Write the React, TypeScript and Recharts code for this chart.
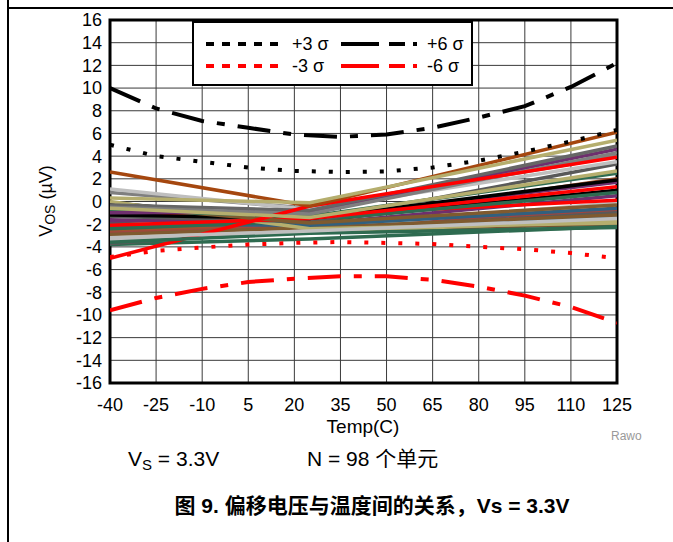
import React from 'react'
import { LineChart, Line, XAxis, YAxis, CartesianGrid, ReferenceArea } from 'recharts'

// temperature grid (C)
const tempTicks = [-40, -25, -10, 5, 20, 35, 50, 65, 80, 95, 110, 125]
const vosTicks = [-16, -14, -12, -10, -8, -6, -4, -2, 0, 2, 4, 6, 8, 10, 12, 14, 16]

// sigma envelopes, one value per tempTicks entry (uV)
const plus6 = [10.0, 8.2, 7.1, 6.5, 5.9, 5.7, 5.9, 6.5, 7.4, 8.4, 10.1, 12.2]
const plus3 = [5.0, 4.0, 3.5, 3.0, 2.7, 2.6, 2.65, 3.0, 3.6, 4.4, 5.3, 6.3]
const minus3 = [-4.9, -4.35, -4.05, -3.8, -3.65, -3.57, -3.65, -3.75, -4.0, -4.2, -4.55, -5.0]
const minus6 = [-9.6, -8.5, -7.7, -7.1, -6.8, -6.6, -6.6, -6.9, -7.5, -8.3, -9.3, -10.7]

// individual units measured at three temperatures
const unitTemps = [-40, 25, 125]
const unitColors = [
  '#7A5230', '#31607F', '#2E6B50', '#B5AE6E', '#A0453F', '#595959', '#BFBFBF',
  '#6E2F6E', '#A0522D', '#7F7F7F', '#000000', '#FF0000', '#7F5A2F', '#31607F',
  '#2E6B50', '#B5AE6E', '#6E2F6E', '#595959', '#000000', '#FF0000', '#7F5A2F',
  '#2E6B50', '#BFBFBF', '#6E2F6E', '#666666', '#7F7F7F', '#FF0000', '#B5AE6E',
  '#A5470F', '#2E6B50', '#B5AE6E', '#BFBFBF',
]
const unitAtMinus40 = [
  -1.9, -2.3, -3.8, -3.1, -2.7, -3.7, -3.4,
  -1.6, -2.5, 0.8, -0.1, -1.0, -2.9, -2.0,
  -2.4, 0.0, -1.7, -1.3, -1.2, -2.1, -0.4,
  -0.8, 1.1, -1.0, -0.3, -0.5, -5.0, -0.6,
  2.6, -3.6, 0.3, -3.2,
]
const unitAt25 = [
  -2.6, -2.5, -3.3, -2.7, -2.2, -2.5, -2.4,
  -2.0, -1.9, -0.6, -1.7, -1.2, -2.3, -2.1,
  -1.7, -2.4, -1.5, -1.8, -1.5, -1.5, -1.9,
  -1.3, -0.7, -0.9, -0.8, -1.1, -0.4, -1.4,
  -0.4, -2.8, -0.1, -2.6,
]
const unitAt125 = [
  -2.0, -1.4, -2.2, -1.7, -0.8, -1.0, -0.1,
  0.5, 2.0, 4.0, 1.0, 0.1, -1.2, -0.6,
  0.8, -1.9, 1.7, 3.3, 1.9, 1.3, -0.3,
  2.5, 3.5, 4.6, 4.9, 4.3, 3.9, 2.7,
  6.1, -2.3, 5.4, -1.5,
]

const sigmaSeries = [
  { name: '+3 σ', values: plus3, color: '#000000', dash: '4 13' },
  { name: '+6 σ', values: plus6, color: '#000000', dash: '33 13 8 13' },
  { name: '-3 σ', values: minus3, color: '#FF0000', dash: '4 13' },
  { name: '-6 σ', values: minus6, color: '#FF0000', dash: '33 13 8 13' },
]
const legendDash = ['8 8', '38 10 16 8', '8 8', '38 10 16 8']

const font = '"Liberation Sans", Arial, sans-serif'
const cjk = '"Liberation Sans", Arial, "Noto Sans CJK SC", sans-serif'

const unitData = unitColors.map((c, i) =>
  unitTemps.map((t, k) => ({
    t,
    v: [unitAtMinus40[i], unitAt25[i], unitAt125[i]][k],
  })),
)
const sigmaData = sigmaSeries.map(s => tempTicks.map((t, k) => ({ t, v: s.values[k] })))

function YLabel() {
  return (
    <text
      x={46}
      y={201}
      transform="rotate(-90 46 201)"
      textAnchor="middle"
      dominantBaseline="central"
      style={{ fontFamily: font, fontSize: 18, fill: '#000' }}
    >
      <tspan>V</tspan>
      <tspan fontSize={14} dy={4}>OS</tspan>
      <tspan dy={-4}> (µV)</tspan>
    </text>
  )
}

export default function App() {
  return (
    <div style={{ position: 'absolute', left: 0, top: 0, width: 673, height: 542, background: '#fff', fontFamily: font }}>
      {/* page frame */}
      <div style={{ position: 'absolute', left: 7, top: 0, width: 2, height: 542, background: '#000' }} />
      <div style={{ position: 'absolute', left: 7, top: 7, width: 666, height: 2, background: '#000' }} />

      <LineChart
        width={673}
        height={542}
        margin={{ top: 20, right: 56, bottom: 129, left: 0 }}
        style={{ position: 'absolute', left: 0, top: 0 }}
      >
        <CartesianGrid stroke="#3a3a3a" strokeWidth={1} />
        <XAxis
          type="number"
          dataKey="t"
          domain={[-40, 125]}
          ticks={tempTicks}
          allowDataOverflow
          height={30}
          tickLine={false}
          axisLine={false}
          tickSize={0}
          tickMargin={15}
          tick={{ fill: '#000', fontSize: 18, fontFamily: font }}
          interval={0}
        />
        <YAxis
          type="number"
          domain={[-16, 16]}
          ticks={vosTicks}
          width={110}
          tickLine={false}
          axisLine={false}
          tickSize={0}
          tickMargin={8}
          interval={0}
          tick={{ fill: '#000', fontSize: 18, fontFamily: font }}
          label={<YLabel />}
        />
        {unitData.map((d, i) => (
          <Line
            key={'u' + i}
            data={d}
            dataKey="v"
            stroke={unitColors[i]}
            strokeWidth={3.5}
            dot={false}
            isAnimationActive={false}
          />
        ))}
        {sigmaSeries.map((s, i) => (
          <Line
            key={s.name}
            data={sigmaData[i]}
            dataKey="v"
            name={s.name}
            stroke={s.color}
            strokeWidth={4}
            strokeDasharray={s.dash}
            dot={false}
            isAnimationActive={false}
          />
        ))}
        <ReferenceArea
          x1={-40}
          x2={125}
          y1={-16}
          y2={16}
          fill="none"
          fillOpacity={0}
          stroke="#000"
          strokeWidth={3}
          ifOverflow="visible"
        />
      </LineChart>

      {/* legend box */}
      <div
        style={{
          position: 'absolute', left: 192, top: 21, width: 281, height: 65,
          boxSizing: 'border-box', border: '2px solid #000', background: '#fff',
        }}
      >
        <svg width={277} height={61} style={{ display: 'block' }}>
          {sigmaSeries.map((s, i) => {
            const col = i % 2
            const row = Math.floor(i / 2)
            const x0 = col === 0 ? 12 : 147
            const y = row === 0 ? 21 : 43
            return (
              <g key={s.name}>
                <line x1={x0} x2={x0 + 76} y1={y} y2={y} stroke={s.color} strokeWidth={4} strokeDasharray={legendDash[i]} />
                <text x={x0 + 86} y={y} dominantBaseline="central" style={{ fontFamily: font, fontSize: 18 }}>
                  {s.name}
                </text>
              </g>
            )
          })}
        </svg>
      </div>

      <div style={{ position: 'absolute', left: 263, width: 200, textAlign: 'center', top: 416, fontSize: 19, lineHeight: '22px', color: '#000' }}>Temp(C)</div>
      <div style={{ position: 'absolute', left: 611, top: 429, fontSize: 12, lineHeight: '14px', color: '#999' }}>Rawo</div>
      <div style={{ position: 'absolute', left: 128, top: 447, fontSize: 21, lineHeight: '24px', color: '#000' }}>
        V<sub style={{ fontSize: 15, verticalAlign: -4, lineHeight: '10px' }}>S</sub> = 3.3V
      </div>
      <div style={{ position: 'absolute', left: 307, top: 447, fontSize: 21, lineHeight: '24px', color: '#000', fontFamily: cjk }}>N = 98 个单元</div>
      <div
        style={{
          position: 'absolute', left: 72, width: 600, textAlign: 'center', top: 494, fontSize: 21, lineHeight: '24px',
          fontWeight: 'bold', color: '#000', fontFamily: cjk, whiteSpace: 'nowrap',
        }}
      >
        图 9. 偏移电压与温度间的关系，Vs = 3.3V
      </div>
    </div>
  )
}
